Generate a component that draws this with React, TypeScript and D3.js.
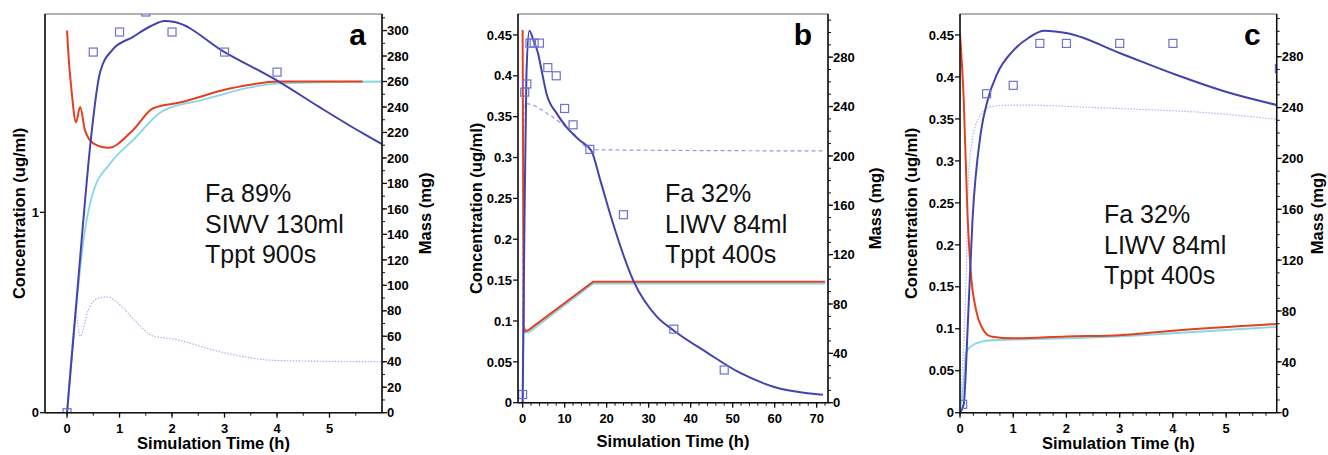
import React from 'react';
import * as d3 from 'd3';

type Pt = [number, number];

// ---- Panel a : Fa 89%, SIWV 130ml, Tppt 900s ----
// [time (h), concentration (ug/ml)]
const blueA: Pt[] = [[0, 0], [0.3, 0.93], [0.44, 1.33], [0.63, 1.7], [0.86, 1.81], [1.25, 1.875], [1.6, 1.93], [1.86, 1.955], [2.05, 1.95], [3.0, 1.8], [4.05, 1.65], [4.81, 1.525], [5.63, 1.395], [6.0, 1.34]];
const obsA: Pt[] = [[0, 0], [0.5, 1.8], [1, 1.9], [1.5, 2.0], [2, 1.9], [3, 1.8], [4, 1.7]];
// [time (h), mass (mg)]
const redA: Pt[] = [[0, 300], [0.02, 285], [0.09, 251], [0.17, 228], [0.25, 240], [0.34, 222], [0.5, 211.5], [0.79, 208], [1.26, 222], [1.64, 239], [2.15, 243.5], [3.1, 254.5], [4.05, 260], [5.63, 260]];
const cyanA: Pt[] = [[0, 0], [0.34, 143], [0.49, 172], [0.82, 195.6], [1.25, 213.7], [1.83, 237], [2.53, 245], [4.05, 258.5], [6.0, 260]];
const lavA: Pt[] = [[0, 0], [0.18, 75], [0.25, 60], [0.4, 80], [0.55, 89], [0.76, 91], [1.0, 85], [1.3, 72], [1.65, 60], [2.0, 58], [3.0, 47], [4.0, 41], [6.0, 40]];

// ---- Panel b : Fa 32%, LIWV 84ml, Tppt 400s ----
const blueB: Pt[] = [[0, 0], [0.4, 0.2], [0.9, 0.4], [1.6, 0.455], [2.6, 0.443], [3.7, 0.427], [4.5, 0.407], [5.7, 0.378], [8.1, 0.354], [10.5, 0.337], [13.6, 0.321], [16.4, 0.308], [18.5, 0.272], [21.3, 0.223], [26.3, 0.15], [32, 0.105], [35.8, 0.089], [44, 0.061], [51.7, 0.0367], [59.7, 0.0196], [71.5, 0.0098]];
const obsB: Pt[] = [[0, 0.01], [0.5, 0.38], [1, 0.39], [1.75, 0.44], [2.75, 0.44], [4, 0.44], [6, 0.41], [8, 0.4], [10, 0.36], [12, 0.34], [16, 0.31], [24, 0.23], [36, 0.09], [48, 0.04]];
const redB: Pt[] = [[0, 302], [0.25, 62], [0.6, 58], [1.5, 59], [16.8, 98], [72, 98]];
const cyanB: Pt[] = [[0, 0], [0.2, 57], [1.5, 57], [16.8, 96.5], [72, 96.5]];
const lavB: Pt[] = [[0, 0], [0.3, 240], [0.55, 242.5], [6.5, 233], [12, 218.5], [16.4, 205], [72, 204]];

// ---- Panel c : Fa 32%, LIWV 84ml, Tppt 400s ----
const blueC: Pt[] = [[0, 0], [0.07, 0.01], [0.15, 0.11], [0.235, 0.23], [0.39, 0.333], [0.52, 0.3725], [0.7, 0.404], [1.01, 0.432], [1.3, 0.447], [1.58, 0.455], [2.02, 0.452], [3.02, 0.428], [4.02, 0.4035], [5.09, 0.3805], [5.95, 0.3666]];
const obsC: Pt[] = [[0.05, 0.01], [0.5, 0.38], [1, 0.39], [1.5, 0.44], [2, 0.44], [3, 0.44], [4, 0.44], [6, 0.41]];
const redC: Pt[] = [[0, 298], [0.07, 246], [0.14, 157], [0.2, 112], [0.3, 81], [0.4, 68], [0.58, 60], [1.0, 58.5], [2.0, 60], [3.0, 61], [4.0, 64.5], [5.95, 69.8]];
const cyanC: Pt[] = [[0, 0], [0.08, 30], [0.11, 47], [0.2, 52], [0.4, 55.8], [0.6, 57], [1.0, 57.5], [2.0, 58.5], [3.0, 60], [4.0, 62.5], [5.95, 67.5]];
const lavC: Pt[] = [[0, 0], [0.11, 99], [0.17, 193.5], [0.33, 230], [0.58, 240.7], [1.01, 242], [2.9, 239.4], [4.77, 235.5], [5.95, 230.8]];

// tick labels
const timeTicksAC = [0, 1, 2, 3, 4, 5];
const timeTicksB = [0, 10, 20, 30, 40, 50, 60, 70];
const concTicksA = [0, 1];
const concTicksBC = [0, 0.05, 0.1, 0.15, 0.2, 0.25, 0.3, 0.35, 0.4, 0.45];
const massTicksA = [0, 20, 40, 60, 80, 100, 120, 140, 160, 180, 200, 220, 240, 260, 280, 300];
const massTicksBC = [0, 40, 80, 120, 160, 200, 240, 280];

const notesA = ['Fa 89%', 'SIWV 130ml', 'Tppt 900s'];
const notesBC = ['Fa 32%', 'LIWV 84ml', 'Tppt 400s'];

const FONT = '"Liberation Sans", Arial, Helvetica, sans-serif';

interface PanelSpec {
  id: string;
  left: number; right: number; top: number; bottom: number;
  xDomain: [number, number];
  concMax: number; massMax: number;
  xTicks: number[]; xMinorStep: number;
  concTicks: number[];
  massTicks: number[]; massMinorStep: number;
  conc: Pt[]; obs: Pt[]; red: Pt[]; cyan: Pt[]; lav: Pt[];
  massCurve: d3.CurveFactory;
  lavColor: string; lavDash: string;
  notes: string[]; noteX: number; noteY: number;
  concTitleX: number; massTitleX: number; timeTitleY: number;
}

function Panel({ p }: { p: PanelSpec }) {
  const x = d3.scaleLinear().domain(p.xDomain).range([p.left, p.right]);
  const yC = d3.scaleLinear().domain([0, p.concMax]).range([p.bottom, p.top]);
  const yM = d3.scaleLinear().domain([0, p.massMax]).range([p.bottom, p.top]);

  const lineC = d3.line<Pt>().x(d => x(d[0])).y(d => yC(d[1])).curve(d3.curveMonotoneX);
  const lineM = d3.line<Pt>().x(d => x(d[0])).y(d => yM(d[1])).curve(p.massCurve);
  const lineLav = d3.line<Pt>().x(d => x(d[0])).y(d => yM(d[1])).curve(d3.curveMonotoneX);

  const xMinor = d3.range(Math.ceil(p.xDomain[0] / p.xMinorStep) * p.xMinorStep, p.xDomain[1], p.xMinorStep)
    .filter(v => v >= p.xDomain[0]);
  const mMinor = d3.range(0, p.massMax, p.massMinorStep);
  const midY = (p.top + p.bottom) / 2;
  const fmt = (v: number) => String(+v.toFixed(2));

  return (
    <g>
      <defs>
        <clipPath id={'clip-' + p.id}>
          <rect x={p.left} y={p.top} width={p.right - p.left} height={p.bottom - p.top} />
        </clipPath>
      </defs>

      {/* frame */}
      <rect x={p.left} y={p.top} width={p.right - p.left} height={p.bottom - p.top}
        fill="none" stroke="#666" strokeWidth={1} />

      {/* series */}
      <g clipPath={`url(#clip-${p.id})`} fill="none">
        <path d={lineLav(p.lav) || ''} stroke={p.lavColor} strokeWidth={1.2} strokeDasharray={p.lavDash} />
        <path d={lineM(p.cyan) || ''} stroke="#86d6e6" strokeWidth={1.8} />
        <path d={lineM(p.red) || ''} stroke="#e5401e" strokeWidth={2} />
        <path d={lineC(p.conc) || ''} stroke="#4343b0" strokeWidth={2} />
        {p.obs.map((d, i) => (
          <rect key={i} x={x(d[0]) - 4} y={yC(d[1]) - 4} width={8} height={8}
            stroke="#7070d0" strokeWidth={1.2} fill="none" />
        ))}
      </g>

      {/* axes lines */}
      <line x1={p.left} x2={p.left} y1={p.top} y2={p.bottom} stroke="#111" strokeWidth={1.5} />
      <line x1={p.right} x2={p.right} y1={p.top} y2={p.bottom} stroke="#111" strokeWidth={1.5} />
      <line x1={p.left} x2={p.right} y1={p.bottom} y2={p.bottom} stroke="#111" strokeWidth={1.5} />

      {/* x ticks */}
      {xMinor.map((v, i) => (
        <line key={'xm' + i} x1={x(v)} x2={x(v)} y1={p.bottom} y2={p.bottom + 3} stroke="#111" strokeWidth={1} />
      ))}
      {p.xTicks.map(v => (
        <g key={'x' + v}>
          <line x1={x(v)} x2={x(v)} y1={p.bottom} y2={p.bottom + 5} stroke="#111" strokeWidth={1.3} />
          <text x={x(v)} y={p.bottom + 20} textAnchor="middle" fontSize={13} fontWeight="bold" fontFamily={FONT}>{fmt(v)}</text>
        </g>
      ))}

      {/* left ticks */}
      {p.concTicks.map(v => (
        <g key={'c' + v}>
          <line x1={p.left - 5} x2={p.left} y1={yC(v)} y2={yC(v)} stroke="#111" strokeWidth={1.3} />
          <text x={p.left - 6} y={yC(v)} dy="0.36em" textAnchor="end" fontSize={13} fontWeight="bold" fontFamily={FONT}>{fmt(v)}</text>
        </g>
      ))}

      {/* right ticks */}
      {mMinor.map((v, i) => (
        <line key={'mm' + i} x1={p.right} x2={p.right + 3} y1={yM(v)} y2={yM(v)} stroke="#111" strokeWidth={1} />
      ))}
      {p.massTicks.map(v => (
        <g key={'m' + v}>
          <line x1={p.right} x2={p.right + 5} y1={yM(v)} y2={yM(v)} stroke="#111" strokeWidth={1.3} />
          <text x={p.right + 5} y={yM(v)} dy="0.36em" textAnchor="start" fontSize={13} fontWeight="bold" fontFamily={FONT}>{fmt(v)}</text>
        </g>
      ))}

      {/* axis titles */}
      <text transform={`translate(${p.concTitleX},${midY}) rotate(-90)`} dy="0.36em" textAnchor="middle"
        fontSize={16.5} fontWeight="bold" fontFamily={FONT}>Concentration (ug/ml)</text>
      <text transform={`translate(${p.massTitleX},${midY}) rotate(-90)`} dy="0.36em" textAnchor="middle"
        fontSize={16.5} fontWeight="bold" fontFamily={FONT}>Mass (mg)</text>
      <text x={(p.left + p.right) / 2} y={p.timeTitleY} textAnchor="middle"
        fontSize={16.5} fontWeight="bold" fontFamily={FONT}>Simulation Time (h)</text>

      {/* panel letter */}
      <text x={p.right - 16} y={45} textAnchor="end" fontSize={30} fontWeight="bold" fontFamily={FONT}>{p.id}</text>

      {/* annotation */}
      {p.notes.map((s, i) => (
        <text key={s} x={p.noteX} y={p.noteY + i * 30.5} fontSize={25} fontFamily={FONT} fill="#111">{s}</text>
      ))}
    </g>
  );
}

const panels: PanelSpec[] = [
  {
    id: 'a', left: 45, right: 382, top: 14, bottom: 412.7,
    xDomain: [-0.42, 6.0], concMax: 1.99, massMax: 313,
    xTicks: timeTicksAC, xMinorStep: 0.5, concTicks: concTicksA,
    massTicks: massTicksA, massMinorStep: 10,
    conc: blueA, obs: obsA, red: redA, cyan: cyanA, lav: lavA,
    massCurve: d3.curveMonotoneX,
    lavColor: '#b3acea', lavDash: '1.5,1.5',
    notes: notesA, noteX: 205, noteY: 202,
    concTitleX: 19, massTitleX: 425, timeTitleY: 449,
  },
  {
    id: 'b', left: 518, right: 828, top: 14, bottom: 402.7,
    xDomain: [-1.1, 72.7], concMax: 0.4756, massMax: 315,
    xTicks: timeTicksB, xMinorStep: 2, concTicks: concTicksBC,
    massTicks: massTicksBC, massMinorStep: 10,
    conc: blueB, obs: obsB, red: redB, cyan: cyanB, lav: lavB,
    massCurve: d3.curveLinear,
    lavColor: '#9d94e0', lavDash: '4,3',
    notes: notesBC, noteX: 665, noteY: 202,
    concTitleX: 476.5, massTitleX: 875, timeTitleY: 447,
  },
  {
    id: 'c', left: 960, right: 1276.7, top: 14, bottom: 412.7,
    xDomain: [0, 5.95], concMax: 0.475, massMax: 313.6,
    xTicks: timeTicksAC, xMinorStep: 0.25, concTicks: concTicksBC,
    massTicks: massTicksBC, massMinorStep: 10,
    conc: blueC, obs: obsC, red: redC, cyan: cyanC, lav: lavC,
    massCurve: d3.curveMonotoneX,
    lavColor: '#b7b0ee', lavDash: '1.5,1.5',
    notes: notesBC, noteX: 1104, noteY: 223,
    concTitleX: 911.5, massTitleX: 1317, timeTitleY: 449,
  },
];

export default function App() {
  return (
    <div style={{ position: 'absolute', left: 0, top: 0 }}>
      <svg width={1328} height={455} style={{ display: 'block', background: '#fff' }}>
        {panels.map(p => <Panel key={p.id} p={p} />)}
      </svg>
    </div>
  );
}
